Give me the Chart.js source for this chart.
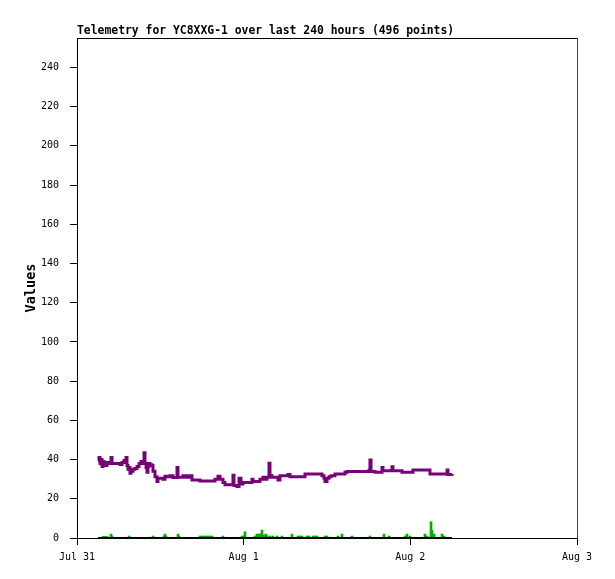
<!DOCTYPE html>
<html>
<head>
<meta charset="utf-8">
<script src="https://cdn.jsdelivr.net/npm/chart.js@4.4.1/dist/chart.umd.min.js"></script>
<style>
html,body{margin:0;padding:0;background:#fff;}
canvas{display:block;}
</style>
</head>
<body>
<canvas id="c" width="615" height="579"></canvas>
<script>
// Hours since Jul 31 00:00
const TITLE = "Telemetry for YC8XXG-1 over last 240 hours (496 points)";
const Y_TITLE = "Values";
const X_TICK_HOURS = [0, 24, 48, 72];
const X_TICK_LABELS = ["Jul 31", "Aug 1", "Aug 2", "Aug 3"];
const Y_TICKS = [0, 20, 40, 60, 80, 100, 120, 140, 160, 180, 200, 220, 240];

const purpleHours = [3.02,3.17,3.31,3.46,3.60,3.74,3.89,4.03,4.32,4.61,4.90,5.04,5.47,5.90,6.19,6.48,6.77,7.06,7.20,7.34,7.49,7.63,7.78,8.06,8.35,8.64,8.93,9.22,9.50,9.65,9.79,9.94,10.08,10.22,10.37,
  10.51,10.80,10.94,11.23,11.52,11.66,12.24,12.38,12.67,12.96,13.39,13.82,14.40,14.54,14.83,15.26,15.70,16.13,16.56,17.28,17.71,18.43,19.15,19.58,19.87,20.30,20.59,20.88,21.02,21.31,22.03,22.32,22.46,22.61,22.90,23.04,23.33,23.62,23.90,24.19,24.91,25.20,25.34,26.06,26.35,26.78,27.07,27.36,27.65,27.79,28.08,28.66,28.94,29.23,29.81,30.24,30.38,30.67,31.39,32.11,32.54,32.83,33.55,34.27,34.99,35.28,35.57,35.71,36.00,36.29,36.58,37.01,37.15,37.87,38.30,38.59,38.88,39.60,40.32,41.04,41.76,42.05,42.19,42.34,42.91,43.63,43.92,44.06,44.64,45.07,45.36,45.50,46.08,46.51,46.80,47.52,48.24,48.38,49.10,49.82,50.54,50.83,51.55,52.27,52.99,53.28,53.42,54.00];
const purpleValues = [39.5,41,38,40,36.5,39,38,37,38.5,38,41,38,38,38,37.5,38.5,39.5,41,37,35,36,33,34,35,35.5,36.5,38,39,38,43.5,38,36,33.5,36.5,38,
  37.3,37,34,31.3,28.8,30.5,30.5,30,31.5,31.3,31.8,30.8,35.9,31,31,31.8,31,31.8,29.6,29.6,29.1,29.1,29.1,29.1,30,31.5,30,30,28.3,27.1,27.1,27.1,32,26.8,26.8,26.3,30.5,27.5,28.3,28.3,28.3,30,28.8,28.8,30,31,30,31,38.1,31.7,31,31,29.6,31.7,31.7,31.7,32.4,31.3,31.3,31.3,31.3,32.7,32.7,32.7,32.7,31.7,30.5,28.8,30.5,31.3,31.7,31.7,32.7,32.7,32.7,33.5,33.9,33.9,33.9,33.9,33.9,34.5,39.8,33.9,33.5,33.5,35.9,34.3,34.3,34.3,36.4,34.3,34.3,34.3,33.5,33.5,33.5,34.7,34.7,34.7,34.7,32.7,32.7,32.7,32.7,34.7,32.4,32.7];

const greenHours = [3.74,4.03,4.32,4.90,5.04,7.49,10.94,12.53,12.67,12.82,14.54,14.69,17.71,18.00,18.29,18.58,18.86,19.15,19.44,21.02,23.76,24.05,24.19,25.63,25.92,26.21,26.35,26.64,26.93,27.22,27.36,27.79,28.22,28.80,29.52,30.96,31.82,32.11,32.40,33.12,33.41,33.98,34.27,34.56,35.71,36.00,37.58,38.16,39.60,42.19,44.21,44.93,47.23,47.52,47.95,50.11,50.40,50.98,51.12,51.41,52.56,52.85];
const greenValues = [0.8,0.8,0.8,2,1,1,1,1,2,1,2,1,1,1,1,1,1,1,1,1,1,1,3.2,1,2,2,2,4,1.5,2,1,1,1,1,1,2,1,1,1,1,1,1,1,1,1,1,1,2,1,1,2,1,1,2,1,2,1,8.3,4,2,2,1];

const blackHours = [3.02, 54.00];
const blackValues = [0, 0];

const toXY = (xs, ys) => xs.map((x, i) => ({x: x, y: ys[i]}));

const MONO = "'DejaVu Sans Mono', monospace";

const framePlugin = {
  id: 'frame',
  afterDraw(chart) {
    const ctx = chart.ctx;
    const a = chart.chartArea;
    ctx.save();
    ctx.lineWidth = 1;
    ctx.strokeStyle = '#000';
    ctx.beginPath();
    ctx.moveTo(Math.round(a.left), Math.round(a.top) + 0.5);
    ctx.lineTo(Math.round(a.right) + 1, Math.round(a.top) + 0.5);
    ctx.stroke();
    ctx.strokeStyle = '#444';
    ctx.beginPath();
    ctx.moveTo(Math.round(a.right) + 0.5, Math.round(a.top));
    ctx.lineTo(Math.round(a.right) + 0.5, Math.round(a.bottom));
    ctx.stroke();
    ctx.fillStyle = '#000';
    ctx.font = "bold 11.4px " + MONO;
    ctx.textAlign = 'left';
    ctx.textBaseline = 'alphabetic';
    ctx.fillText(TITLE, a.left, 34);
    ctx.restore();
  }
};

new Chart(document.getElementById('c'), {
  type: 'line',
  data: {
    datasets: [
      {
        label: 'purple',
        data: toXY(purpleHours, purpleValues),
        borderColor: '#780078',
        borderWidth: 3,
        pointRadius: 0,
        stepped: true,
        fill: false,
        order: 0
      },
      {
        label: 'zero',
        data: toXY(blackHours, blackValues),
        borderColor: '#000',
        borderWidth: 2,
        pointRadius: 0,
        fill: false,
        order: 1
      },
      {
        type: 'bar',
        label: 'green',
        data: toXY(greenHours, greenValues),
        backgroundColor: '#00b000',
        borderWidth: 0,
        barThickness: 2,
        grouped: false,
        order: 2
      }
    ]
  },
  options: {
    responsive: false,
    animation: false,
    devicePixelRatio: 1,
    layout: { padding: { top: 38, right: 38, left: 0, bottom: 0 } },
    plugins: {
      legend: { display: false },
      tooltip: { enabled: false },
      title: { display: false }
    },
    scales: {
      x: {
        type: 'linear',
        min: 0,
        max: 72,
        offset: false,
        afterBuildTicks: s => { s.ticks = X_TICK_HOURS.map(v => ({ value: v })); },
        ticks: {
          callback: v => X_TICK_LABELS[X_TICK_HOURS.indexOf(v)],
          font: { family: MONO, size: 10 },
          color: '#000',
          padding: 6,
          maxRotation: 0,
          autoSkip: false
        },
        grid: { drawOnChartArea: false, tickLength: 7, color: '#000', tickColor: '#000', offset: false },
        border: { color: '#000', width: 1 },
        afterFit: s => { s.height = 41; }
      },
      y: {
        type: 'linear',
        min: 0,
        max: 255,
        afterBuildTicks: s => { s.ticks = Y_TICKS.map(v => ({ value: v })); },
        ticks: {
          font: { family: MONO, size: 10 },
          color: '#000',
          padding: 11
        },
        grid: { drawOnChartArea: false, tickLength: 7, color: '#000', tickColor: '#000' },
        border: { color: '#000', width: 1 },
        title: {
          display: true,
          text: Y_TITLE,
          color: '#000',
          font: { family: MONO, size: 13.5, weight: 'bold' },
          padding: { top: 23, bottom: 0 }
        },
        afterFit: s => { s.width = 77; }
      }
    }
  },
  plugins: [framePlugin]
});
</script>
</body>
</html>
